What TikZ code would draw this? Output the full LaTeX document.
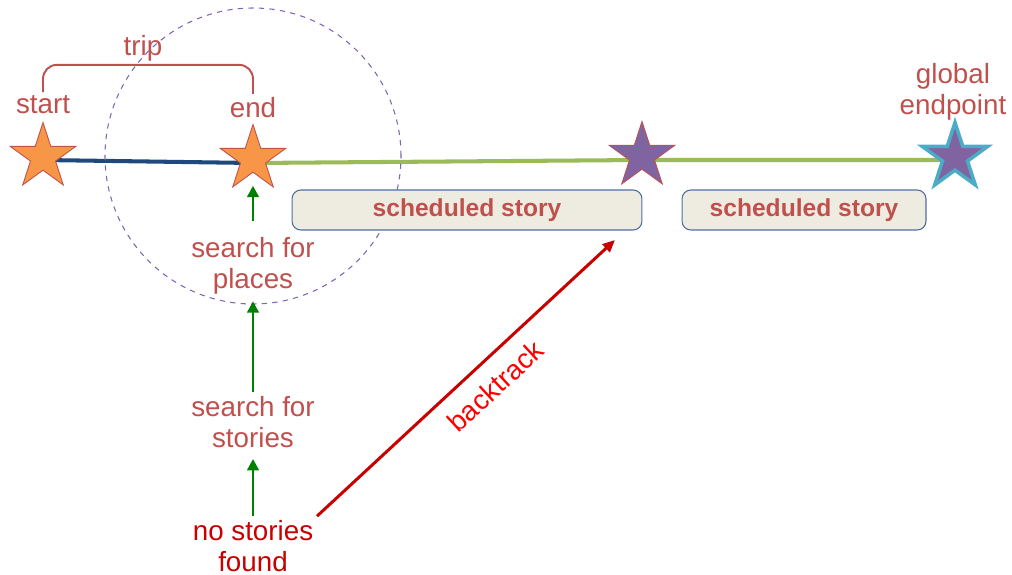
\documentclass[tikz,border=0pt]{standalone}
\usepackage{fontspec}
\setmainfont{Liberation Sans}
\usetikzlibrary{arrows.meta,shapes.geometric,backgrounds}
\definecolor{labelRed}{RGB}{192,80,77}
\definecolor{alertRed}{RGB}{200,0,0}
\definecolor{brightRed}{RGB}{255,0,0}
\definecolor{starOrange}{RGB}{247,150,70}
\definecolor{starPurple}{RGB}{128,100,162}
\definecolor{goalCyan}{RGB}{75,172,198}
\definecolor{tripBlue}{RGB}{31,73,125}
\definecolor{routeGreen}{RGB}{155,187,89}
\definecolor{boxFill}{RGB}{238,236,225}
\definecolor{boxEdge}{RGB}{79,110,160}
\definecolor{circleLilac}{RGB}{128,100,180}
\definecolor{flowGreen}{RGB}{0,128,0}

\tikzset{
  waypoint/.style={star, star points=5, star point ratio=2.618, minimum size=1.38cm, inner sep=0pt, draw=labelRed, line width=0.5pt},
  caption/.style={text=labelRed, font=\fontsize{15.8pt}{18pt}\selectfont, align=center, inner sep=2pt},
  storybox/.style={draw=boxEdge, fill=boxFill, rounded corners=5pt, line width=0.6pt, minimum height=0.8cm, text=labelRed, font=\fontsize{14pt}{16pt}\selectfont\bfseries},
  flow/.style={draw=flowGreen, line width=1.7pt, -{Triangle[length=6.5pt,width=6.5pt]}},
}

\begin{document}
\begin{tikzpicture}[x=0.02cm, y=0.02cm]
\useasboundingbox (0,0) rectangle (1012,-575);

% stars along the route
\node[waypoint, fill=starOrange] (start) at (43,-157) {};
\node[waypoint, fill=starOrange] (end) at (253,-159) {};
\node[waypoint, fill=starPurple] (mid) at (642,-156) {};
\node[waypoint, fill=starPurple, draw=goalCyan, line width=2pt] (goal) at (955,-157) {};

% labels above the stars
\node[caption] (startlbl) at (43,-105) {start};
\node[caption] (endlbl) at (253,-108) {end};
\node[caption] (triplbl) at (143,-48) {trip};
\node[caption] (goallbl) at (953,-92) {global\\endpoint};
\draw[labelRed, line width=1.1pt, rounded corners=8pt] (startlbl.north) |- (triplbl.south) -| (endlbl.north);

% search area
\draw[circleLilac, dashed, line width=0.6pt] (253,-156) circle[radius=148];

% scheduled parts
\node[storybox, minimum width=7cm] (story1) at (467,-210) {scheduled story};
\node[storybox, minimum width=4.88cm] (story2) at (804,-210) {scheduled story};

% steps below the end star
\node[caption] (places) at (253,-266) {search for\\places};
\node[caption] (stories) at (253,-422) {search for\\stories};
\node[caption, text=alertRed] (nofound) at (253,-546) {no stories\\found};
\coordinate (bt) at (615,-240);

\begin{scope}[on background layer]
  \draw[tripBlue, line width=2.3pt] ([yshift=-0.06cm]start.center) -- ([yshift=-0.08cm]end.center);
  \draw[routeGreen, line width=2.3pt] ([yshift=-0.08cm]end.center) -- ([yshift=-0.08cm]mid.center) -- ([yshift=-0.06cm]goal.center);
\end{scope}

\draw[flow, shorten <=6.8pt, shorten >=7.4pt] (places) -- (end);
\draw[flow, shorten >=1.5pt] (stories) -- (places);
\draw[flow, shorten >=4pt] (nofound) -- (stories);
\draw[alertRed, line width=1.7pt, -{Triangle[length=7pt,width=6pt]}] (nofound.north east) -- (bt)
  node[caption, text=brightRed, pos=0.54, below=6pt, sloped] {backtrack};
\end{tikzpicture}
\end{document}
